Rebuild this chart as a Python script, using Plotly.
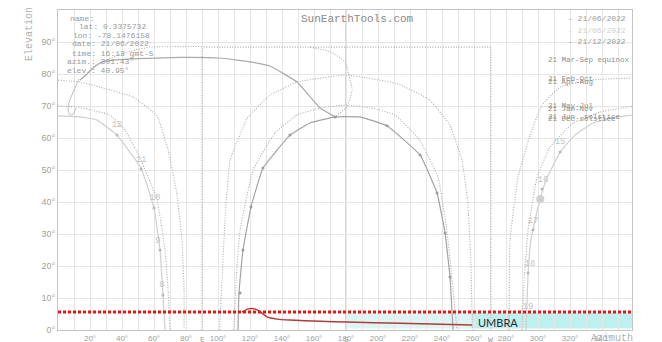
import plotly.graph_objects as go

# ---------------- data (azimuth °, elevation °) ----------------
dec_az = [112.5, 113.1, 115.6, 120.6, 128.1, 145.0, 157.5, 173.1, 180.0, 188.8, 205.6, 226.3, 236.9, 241.9, 245.0, 246.9]
dec_el = [0, 11.6, 25.0, 38.4, 50.6, 60.9, 64.7, 66.6, 66.7, 66.6, 63.8, 54.7, 42.8, 30.3, 16.6, 0]

jan_az = [110.0, 111.3, 113.8, 121.9, 135.6, 149.4, 164.0, 180.0, 196.0, 210.6, 226.0, 237.5, 243.0, 246.3, 249.4]
jan_el = [0, 15.6, 31.3, 50.0, 61.6, 67.2, 69.4, 70.3, 69.4, 67.2, 59.4, 47.8, 31.3, 15.6, 0]

feb_az = [101.0, 102.5, 104.4, 107.5, 118.0, 132.5, 149.4, 180.0, 212.0, 232.0, 245.0, 252.5, 256.0, 258.0, 259.0]
feb_el = [0, 15.6, 34.4, 53.0, 66.0, 73.4, 77.5, 79.7, 77.0, 72.0, 64.0, 53.0, 40.6, 21.9, 0]

eq_az = [90.0, 90.0, 91.0, 270.0, 270.6, 270.6]
eq_el = [0, 87.5, 88.4, 88.4, 87.5, 0]

top_az = [13.8, 23.1, 35.6, 48.1, 57.5, 90.0]
top_el = [78.1, 82.5, 85.6, 87.5, 88.4, 88.6]

noon_az = [157.5, 170.0, 179.4, 183.8, 180.6, 173.1]
noon_el = [88.4, 87.0, 83.8, 75.0, 69.7, 66.6]

day_az = [13.8, 17.5, 21.9, 27.5, 45.0, 76.3, 101.3, 120.0, 132.5, 149.4, 163.8, 174.4]
day_el = [78.1, 79.7, 81.9, 83.8, 84.7, 85.2, 85.0, 83.8, 82.5, 77.5, 69.4, 66.3]

loop_az = [13.1, 10.0, 7.0, 6.3, 7.5, 9.4, 11.3]
loop_el = [78.4, 75.0, 71.3, 68.8, 67.2, 67.5, 69.4]

jun_l_az = [0, 13.8, 24.4, 36.9, 51.9, 60.0, 63.8, 65.6, 66.9]
jun_l_el = [66.9, 66.6, 65.6, 60.9, 50.6, 38.1, 25.0, 10.9, 0]
jun_r_az = [292.5, 293.8, 295.6, 298.8, 301.4, 305.0, 313.8, 323.1, 334.4, 346.3, 360]
jun_r_el = [0, 17.8, 28.1, 35.9, 41.0, 46.9, 55.6, 60.9, 64.7, 66.3, 67.2]

may_l_az = [0, 11.9, 32.5, 41.9, 51.3, 61.9, 66.9, 68.8, 70.0]
may_l_el = [70.0, 69.7, 67.2, 62.5, 53.8, 40.6, 25.0, 12.5, 0]
may_r_az = [290.0, 291.3, 293.8, 299.4, 307.5, 321.9, 338.8, 360]
may_r_el = [0, 15.6, 31.3, 47.8, 57.2, 64.7, 68.1, 70.0]

apr_l_az = [0, 13.8, 26.3, 46.9, 61.9, 68.8, 74.4, 77.5, 78.8, 78.8]
apr_l_el = [78.1, 77.5, 75.9, 72.8, 66.9, 56.3, 42.2, 28.1, 12.5, 0]
apr_r_az = [281.9, 282.5, 287.5, 295.0, 302.5, 313.8, 332.5, 360]
apr_r_el = [0, 28.1, 47.8, 60.9, 70.3, 75.9, 78.1, 78.8]

jun_dot_az = [36.9, 51.9, 60.0, 63.8, 65.6, 313.8, 302.5, 296.9, 293.8]
jun_dot_el = [60.9, 50.3, 38.1, 25.0, 10.9, 55.6, 44.1, 31.3, 17.8]
dec_dot_az = [113.8, 115.6, 120.6, 128.1, 145.0, 173.1, 205.6, 226.3, 236.9, 241.9, 245.0]
dec_dot_el = [11.6, 25.0, 38.4, 50.6, 60.9, 66.6, 63.8, 54.7, 42.8, 30.3, 16.6]

hour_text = ["12", "11", "10", "9", "8", "15", "16", "17", "18", "19"]
hour_az = [36.9, 51.9, 60.6, 62.5, 65.0, 313.8, 303.1, 296.9, 295.0, 293.8]
hour_el = [64.1, 53.1, 41.3, 27.8, 14.1, 58.8, 46.9, 34.1, 20.6, 7.2]

sun_az = [301.43]
sun_el = [40.95]

profile_az = [115.0, 118.8, 123.0, 127.5, 130.6, 137.0, 145.0, 164.0, 180.6, 214.0, 258.8]
profile_el = [5.6, 6.6, 6.6, 5.3, 4.1, 3.4, 3.1, 2.7, 2.5, 2.1, 1.6]

umbra_level = 5.6
umbra_start, umbra_split, umbra_end = 180.0, 258.8, 358.8

az_tick_vals = [0, 10, 20, 30, 40, 50, 60, 70, 80, 90, 100, 110, 120, 130, 140, 150, 160, 170,
                180, 190, 200, 210, 220, 230, 240, 250, 260, 270, 280, 290, 300, 310, 320, 330, 340, 350]
az_tick_text = ["", "", "20°", "", "40°", "", "60°", "", "80°", "", "100°", "", "120°", "", "140°", "", "160°", "",
                "180°", "", "200°", "", "220°", "", "240°", "", "260°", "", "280°", "", "300°", "", "320°", "", "340°", ""]
el_tick_vals = [0, 10, 20, 30, 40, 50, 60, 70, 80, 90]
el_tick_text = ["0°", "10°", "20°", "30°", "40°", "50°", "60°", "70°", "80°", "90°"]

info_lines = ["name:", "lat: 0.3375732", "lon: -78.1476158", "date: 21/06/2022",
              "time: 16:13 gmt-5", "azim.: 301.43°", "elev.: 40.95°"]
legend_dates = ["- 21/06/2022", "- 21/06/2022", "- 21/12/2022"]
month_labels = ["21 Mar-Sep equinox", "21 Feb-Oct", "21 Apr-Aug", "21 May-Jul", "21 Jan-Nov",
                "21 Jun. solstice", "21 Dec solstice"]

# ---------------- figure ----------------
# the page body adds an 8px offset, so the figure is 8px smaller than the window
OFF = 8
W, H = 662 - OFF, 342 - OFF
L, T = 58 - OFF, 10 - OFF
PW, PH = 574, 320
R, B = W - L - PW, H - T - PH


def P(x, y):
    # reference-window pixel -> paper coordinates
    return (x - 58) / PW, (330 - y) / PH


DOT = "1px,1.6px"
GREY = "#ababab"
LIGHT = "#cfcfcf"

fig = go.Figure()


def line(az, el, color, dash=None, width=1.0, smooth=0.3):
    fig.add_trace(go.Scatter(x=az, y=el, mode="lines", hoverinfo="skip",
                             line=dict(color=color, width=width, dash=dash,
                                       shape="spline", smoothing=smooth)))


for a, e in [(jan_az, jan_el), (feb_az, feb_el), (may_l_az, may_l_el), (may_r_az, may_r_el),
             (apr_l_az, apr_l_el), (apr_r_az, apr_r_el), (top_az, top_el), (noon_az, noon_el)]:
    line(a, e, GREY, DOT, 1.1)
fig.add_trace(go.Scatter(x=eq_az, y=eq_el, mode="lines", hoverinfo="skip",
                         line=dict(color=GREY, width=1.1, dash=DOT)))
line(dec_az, dec_el, "#a3a3a3", None, 1.2)
line(jun_l_az, jun_l_el, LIGHT, None, 1.2)
line(jun_r_az, jun_r_el, LIGHT, None, 1.2)
line(day_az, day_el, "#ababab", None, 1.2)
line(loop_az, loop_el, "#bdbdbd", None, 1.0, 0.6)

fig.add_trace(go.Scatter(x=jun_dot_az, y=jun_dot_el, mode="markers", hoverinfo="skip",
                         marker=dict(size=3, color="#b8b8b8")))
fig.add_trace(go.Scatter(x=dec_dot_az, y=dec_dot_el, mode="markers", hoverinfo="skip",
                         marker=dict(size=3, color="#9d9d9d")))
fig.add_trace(go.Scatter(x=hour_az, y=hour_el, mode="text", text=hour_text, hoverinfo="skip",
                         textfont=dict(family="Liberation Mono", size=9, color="#c4c4c4")))
fig.add_trace(go.Scatter(x=sun_az, y=sun_el, mode="markers", hoverinfo="skip",
                         marker=dict(size=8, color="#d0d0d0")))

fig.add_trace(go.Scatter(x=profile_az, y=profile_el, mode="lines", hoverinfo="skip",
                         line=dict(color="#b23a3a", width=1.5, shape="spline", smoothing=0.5)))

shapes = [
    dict(type="rect", xref="x", yref="y", x0=umbra_start, x1=umbra_split, y0=0.5, y1=5.3,
         fillcolor="#dcf6f6", line=dict(width=0), layer="below"),
    dict(type="rect", xref="x", yref="y", x0=umbra_split, x1=umbra_end, y0=0.5, y1=5.3,
         fillcolor="#bff0f0", line=dict(width=0), layer="below"),
    dict(type="line", xref="x", yref="paper", x0=180, x1=180, y0=0, y1=1,
         line=dict(color="#b0b0b0", width=1), layer="below"),
    dict(type="line", xref="paper", yref="y", x0=0, x1=1, y0=umbra_level, y1=umbra_level,
         line=dict(color="#ee1111", width=3, dash="3px,2px")),
]

annotations = []


def txt(s, x, y, size, color, family="Liberation Mono", xanchor="left", angle=0):
    px, py = P(x, y)
    annotations.append(dict(text=s, x=px, y=py, xref="paper", yref="paper", showarrow=False,
                            xanchor=xanchor, yanchor="middle", textangle=angle,
                            font=dict(family=family, size=size, color=color)))


txt("SunEarthTools.com", 357, 19, 11, "#8a8a8a", xanchor="center")
info_x = [68, 77, 71, 70, 70, 65, 65]
info_y = [18, 26, 35, 44, 53, 62, 70]
for s, x, y in zip(info_lines, info_x, info_y):
    txt(s, x, y, 8, "#9a9a9a")
for s, y, c in zip(legend_dates, [18, 30, 41], ["#9a9a9a", "#cfcfcf", "#9a9a9a"]):
    txt(s, 628, y, 8, c, xanchor="right")
for s, y in zip(month_labels, [60, 79, 82, 106, 109, 117, 119]):
    txt(s, 546, y, 7.5, "#8f8f8f")
txt("Elevation", 30, 34, 10, "#b0b0b0", xanchor="center", angle=-90)
txt("Azimuth", 612, 338, 10, "#b0b0b0", xanchor="center")
for s, x in zip(["E", "S", "W"], [202, 346, 490]):
    txt(s, x, 339, 8, "#a0a0a0", xanchor="center")
txt("UMBRA", 498, 322, 11, "#1f2a33", family="Lato", xanchor="center")

axis_common = dict(showgrid=True, gridcolor="#e6e6e6", gridwidth=1, zeroline=False,
                   showline=True, linecolor="#c4c4c4", mirror=True, ticks="", automargin=False)

fig.update_layout(
    width=W, height=H, margin=dict(l=L, r=R, t=T, b=B, autoexpand=False),
    paper_bgcolor="white", plot_bgcolor="white", showlegend=False,
    shapes=shapes, annotations=annotations,
    xaxis=dict(range=[0, 358.75], tickvals=az_tick_vals, ticktext=az_tick_text,
               tickfont=dict(family="Liberation Sans", size=8, color="#a0a0a0"), **axis_common),
    yaxis=dict(range=[0, 100], tickvals=el_tick_vals, ticktext=el_tick_text,
               tickfont=dict(family="Liberation Sans", size=9, color="#a0a0a0"), **axis_common),
)

fig.write_html("out.html")
